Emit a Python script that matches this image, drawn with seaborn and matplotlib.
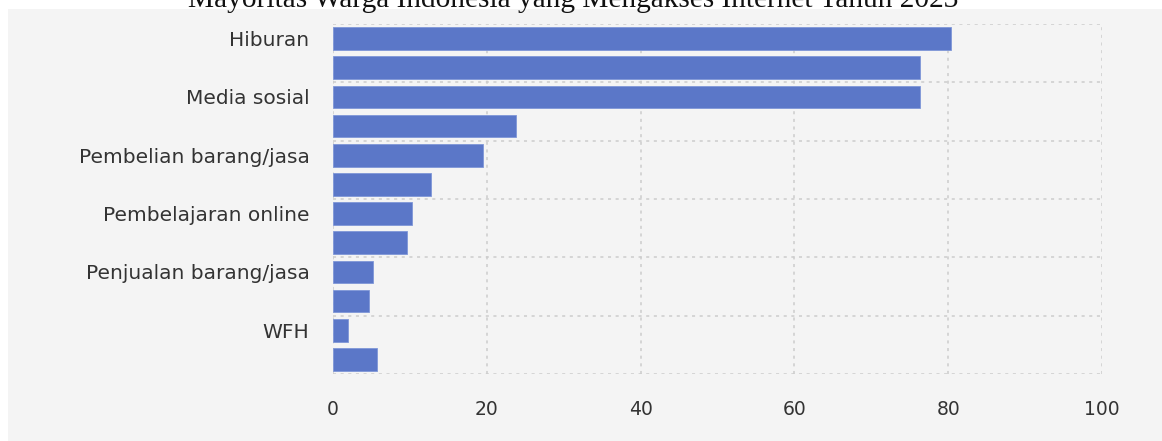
import matplotlib
matplotlib.use("Agg")
import matplotlib.pyplot as plt
import seaborn as sns
import pandas as pd
from matplotlib.patches import Rectangle

categories = [
    "Hiburan",
    "Mendapat informasi/berita",
    "Media sosial",
    "Mengirim/menerima email",
    "Pembelian barang/jasa",
    "Fasilitas finansial",
    "Pembelajaran online",
    "Mencari informasi barang/jasa",
    "Penjualan barang/jasa",
    "Layanan pemerintahan",
    "WFH",
    "Lainnya",
]
values = [80.4, 76.3, 76.3, 23.8, 19.5, 12.7, 10.3, 9.6, 5.2, 4.7, 2.0, 5.7]
shown_labels = ["Hiburan", "Media sosial", "Pembelian barang/jasa",
                "Pembelajaran online", "Penjualan barang/jasa", "WFH"]
x_ticks = [0, 20, 40, 60, 80, 100]
title = "Mayoritas Warga Indonesia yang Mengakses Internet Tahun 2023"

df = pd.DataFrame({"kategori": categories, "persen": values})

sns.set_style("white")
plt.rcParams["font.family"] = ["DejaVu Sans"]

W, H = 1162, 441
fig = plt.figure(figsize=(W / 100, H / 100), dpi=100, facecolor="white")
bg = "#f4f4f4"
fig.patches.append(Rectangle((8 / W, 0), 1 - 8 / W, (H - 9) / H,
                             transform=fig.transFigure, facecolor=bg,
                             edgecolor="none", zorder=-5))

ax = fig.add_axes([333 / W, (H - 374) / H, (1102 - 333) / W, (374 - 24) / H])
ax.set_zorder(2)
ax.set_facecolor(bg)

sns.barplot(data=df, x="persen", y="kategori", order=categories,
            color="#5b77c8", saturation=1, width=0.78, orient="h", ax=ax,
            edgecolor="#7f97d8", linewidth=0.6, zorder=3)

ax.set_xlim(0, 100)
ax.set_ylim(11.5, -0.5)
ax.set_xticks(x_ticks)
ax.set_xticklabels([str(t) for t in x_ticks])
label_pos = [categories.index(l) for l in shown_labels]
ax.set_yticks(label_pos)
ax.set_yticklabels(shown_labels)
ax.set_yticks([-0.5 + 2 * i for i in range(7)], minor=True)

grid_kw = dict(color="#cccccc", linestyle=(0, (2, 3)), linewidth=1.1)
ax.xaxis.grid(True, which="major", **grid_kw)
ax.yaxis.grid(True, which="minor", **grid_kw)
ax.yaxis.grid(False, which="major")
ax.set_axisbelow(True)

for s in ax.spines.values():
    s.set_visible(False)

ax.tick_params(axis="x", length=0, pad=19, labelsize=13.5, labelcolor="#333333")
ax.tick_params(axis="y", which="major", length=5, width=1, color="#dddddd",
               pad=12, labelsize=14.5, labelcolor="#333333")
ax.tick_params(axis="y", which="minor", length=0)
ax.set_xlabel("")
ax.set_ylabel("")

fig.text(573 / W, (H - 7) / H, title, ha="center", va="baseline",
         fontsize=21.2, family=["Liberation Serif", "DejaVu Serif"], color="#111111",
         zorder=5)

fig.savefig("out.png", dpi=100, facecolor="white")
